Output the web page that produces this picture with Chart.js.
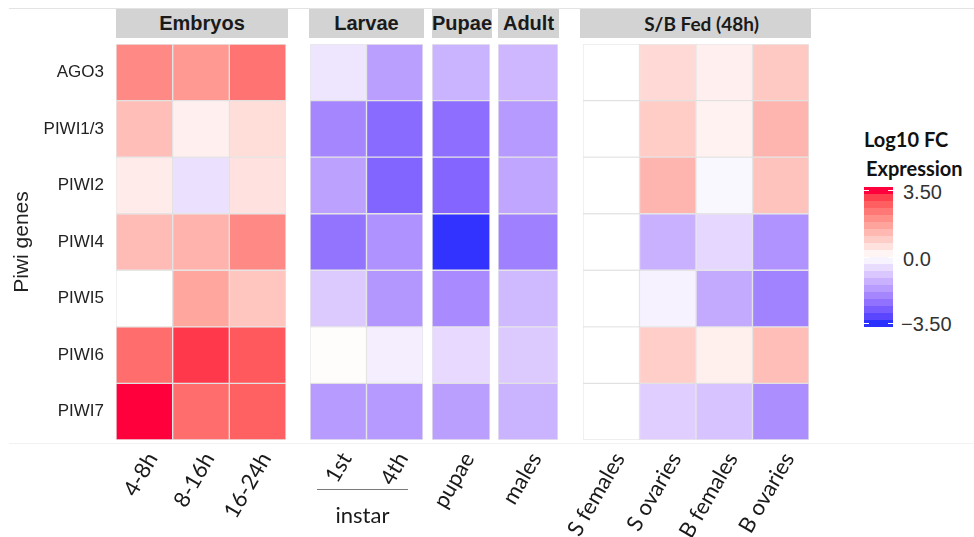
<!DOCTYPE html>
<html><head><meta charset="utf-8">
<script src="https://cdn.jsdelivr.net/npm/chart.js@4.4.1/dist/chart.umd.min.js"></script>
<style>
body{margin:0;background:#fff;width:974px;height:537px;overflow:hidden;position:relative;font-family:"Liberation Sans",Arial,sans-serif;}
canvas{position:absolute;top:0;}
.strip{position:absolute;top:9px;height:29px;background:#D3D3D3;color:#1A1A1A;font-weight:bold;font-size:20px;display:flex;align-items:center;justify-content:center;white-space:nowrap;}
.hline{position:absolute;height:1px;}
.lg{position:absolute;font-family:Lato,sans-serif;font-weight:bold;font-size:20px;color:#111;white-space:nowrap;}
.lt{position:absolute;font-family:"Liberation Sans",Arial,sans-serif;font-size:20px;color:#333;white-space:nowrap;line-height:20px;}
</style>
</head><body>
<div class="hline" style="left:9px;top:8px;width:965px;background:#E3E3E3;"></div>
<div class="hline" style="left:9px;top:443px;width:965px;background:#F2F2F2;"></div>

<div class="strip" style="left:116px;width:172px;">Embryos</div>
<div class="strip" style="left:309px;width:115px;">Larvae</div>
<div class="strip" style="left:432px;width:60px;">Pupae</div>
<div class="strip" style="left:498px;width:61px;">Adult</div>
<div class="strip" style="left:580px;width:231px;font-family:Lato,sans-serif;font-size:19px;padding-left:12px;box-sizing:border-box;">S/B Fed (48h)</div>

<canvas id="cEmb" width="306" height="537" style="left:0px"></canvas>
<canvas id="cLar" width="193" height="537" style="left:250px"></canvas>
<canvas id="cPup" width="138" height="537" style="left:372px"></canvas>
<canvas id="cAdu" width="140" height="537" style="left:438px"></canvas>
<canvas id="cFed" width="306" height="537" style="left:523px"></canvas>

<div style="position:absolute;left:317px;top:489px;width:91px;border-top:1.5px solid #7a7a7a;"></div>
<div style="position:absolute;left:312px;width:101px;top:502px;text-align:center;font-family:Lato,sans-serif;font-size:22px;color:#1a1a1a;line-height:26px;">instar</div>

<div class="lg" style="left:864px;top:127px;">Log10 FC</div>
<div class="lg" style="left:866px;top:156px;">Expression</div>
<div id="cbar" style="position:absolute;left:864px;top:187px;width:29px;height:140px;"></div>
<div class="lt" style="left:903px;top:182px;">3.50</div>
<div class="lt" style="left:903px;top:249px;">0.0</div>
<div class="lt" style="left:901px;top:314px;">&minus;3.50</div>

<script>
// ---------- DATA ----------
const genes = ["AGO3", "PIWI1/3", "PIWI2", "PIWI4", "PIWI5", "PIWI6", "PIWI7"];

const embryoCols = ["4-8h", "8-16h", "16-24h"];
const embryoFC = [
  [2.1, 1.85, 2.45],
  [1.2, 0.27, 0.63],
  [0.35, -0.5, 0.53],
  [1.25, 1.4, 2.1],
  [0.0, 1.63, 1.05],
  [2.55, 3.2, 2.85],
  [3.5, 2.55, 2.75]
];

const larvaeCols = ["1st", "4th"];
const larvaeFC = [
  [-0.43, -1.6],
  [-2.03, -2.5],
  [-1.56, -2.63],
  [-2.35, -1.84],
  [-0.88, -1.75],
  [0.05, -0.27],
  [-1.67, -1.68]
];

const pupaeCols = ["pupae"];
const pupaeFC = [-1.25, -2.45, -2.6, -3.45, -1.95, -0.62, -1.6];

const adultCols = ["males"];
const adultFC = [-1.2, -1.68, -1.49, -2.14, -1.15, -0.87, -1.25];

const fedCols = ["S females", "S ovaries", "B females", "B ovaries"];
const fedFC = [
  [0, 0.7, 0.27, 1.0],
  [0, 0.95, 0.25, 1.35],
  [0, 1.35, -0.12, 1.1],
  [0, -1.3, -0.65, -1.8],
  [0, -0.22, -1.42, -2.1],
  [0, 0.9, 0.28, 1.2],
  [0, -0.8, -1.0, -1.9]
];

const legendBreaks = [3.5, 0, -3.5];
const fcLimit = 3.5;

// ---------- COLOUR SCALE (Lab interpolation, like gradient2) ----------
const HIGH = "#FF003C", MID = "#FFFFFF", LOW = "#2A30FF";
function hexRgb(h){h=h.replace('#','');return [0,2,4].map(i=>parseInt(h.substr(i,2),16));}
function lin(c){c/=255;return c<=0.04045?c/12.92:Math.pow((c+0.055)/1.055,2.4);}
function gam(c){c=c<=0.0031308?12.92*c:1.055*Math.pow(c,1/2.4)-0.055;return Math.round(Math.max(0,Math.min(1,c))*255);}
function toLab(rgb){
  const R=lin(rgb[0]),G=lin(rgb[1]),B=lin(rgb[2]);
  const X=(0.4124*R+0.3576*G+0.1805*B)/0.95047, Y=(0.2126*R+0.7152*G+0.0722*B), Z=(0.0193*R+0.1192*G+0.9505*B)/1.08883;
  const f=t=>t>0.008856?Math.cbrt(t):7.787*t+16/116;
  const fx=f(X),fy=f(Y),fz=f(Z);
  return [116*fy-16,500*(fx-fy),200*(fy-fz)];
}
function fromLab(l){
  const fy=(l[0]+16)/116, fx=fy+l[1]/500, fz=fy-l[2]/200;
  const fi=t=>t>0.206893?t*t*t:(t-16/116)/7.787;
  const X=fi(fx)*0.95047,Y=fi(fy),Z=fi(fz)*1.08883;
  const R=3.2406*X-1.5372*Y-0.4986*Z, G=-0.9689*X+1.8758*Y+0.0415*Z, B=0.0557*X-0.2040*Y+1.0570*Z;
  return 'rgb('+gam(R)+','+gam(G)+','+gam(B)+')';
}
const labH=toLab(hexRgb(HIGH)), labM=toLab(hexRgb(MID)), labL=toLab(hexRgb(LOW));
function colorFor(v){
  let t=Math.max(-1,Math.min(1,v/fcLimit));
  const end=t>=0?labH:labL; t=Math.abs(t);
  return fromLab([0,1,2].map(i=>labM[i]+(end[i]-labM[i])*t));
}

// ---------- CHARTS ----------
function toRows(arr){return arr.map(r=>Array.isArray(r)?r:[r]);}
function makePanel(id, cols, values, padL, showY){
  const rows=toRows(values);
  const yAxis={stacked:true, reverse:true, min:0, max:7, display:showY,
    grid:{display:false, drawTicks:false}, border:{display:false}};
  if(showY){
    Object.assign(yAxis,{
      afterBuildTicks:s=>{s.ticks=genes.map((g,i)=>({value:i+0.5}));},
      ticks:{autoSkip:false, callback:(v,i)=>genes[i], font:{family:'Liberation Sans',size:17}, color:'#222', padding:12},
      title:{display:true, text:'Piwi genes', font:{family:'Liberation Sans',size:21}, color:'#222', padding:{top:10,bottom:0}},
      afterFit:s=>{s.width=116;}
    });
  }
  new Chart(document.getElementById(id),{
    type:'bar',
    data:{labels:cols, datasets:genes.map((g,i)=>({
      label:g, data:cols.map(()=>1),
      backgroundColor:rows[i].map(colorFor),
      borderColor:'rgba(205,205,205,0.45)', borderWidth:1, borderSkipped:false,
      barPercentage:1, categoryPercentage:1
    }))},
    options:{responsive:false, animation:false, events:[],
      layout:{padding:{top:44,bottom:0,left:padL,right:20}},
      plugins:{legend:{display:false}, tooltip:{enabled:false}},
      scales:{
        x:{stacked:true, grid:{display:false}, border:{display:false},
          ticks:{minRotation:60, maxRotation:60, autoSkip:false, labelOffset:8, font:{family:'Lato',size:22}, color:'#1a1a1a', padding:0},
          afterFit:s=>{s.height=97;}},
        y:yAxis
      }}
  });
}
makePanel('cEmb', embryoCols, embryoFC, 0, true);
makePanel('cLar', larvaeCols, larvaeFC, 60, false);
makePanel('cPup', pupaeCols, pupaeFC, 60, false);
makePanel('cAdu', adultCols, adultFC, 60, false);
makePanel('cFed', fedCols, fedFC, 60, false);

// ---------- LEGEND COLOUR BAR ----------
const cbar=document.getElementById('cbar');
const nbin=20;
for(let k=0;k<nbin;k++){
  const v=fcLimit-(2*fcLimit)*k/(nbin-1);
  const d=document.createElement('div');
  d.style.cssText='height:7px;width:29px;background:'+colorFor(v);
  cbar.appendChild(d);
}
legendBreaks.forEach(b=>{
  const y=3.5+(fcLimit-b)/(2*fcLimit)*(140-7);
  ['0px','24px'].forEach(x=>{
    const t=document.createElement('div');
    t.style.cssText='position:absolute;left:'+x+';top:'+(y-0.5)+'px;width:5px;height:1px;background:#fff;';
    cbar.appendChild(t);
  });
});
</script>
</body></html>
